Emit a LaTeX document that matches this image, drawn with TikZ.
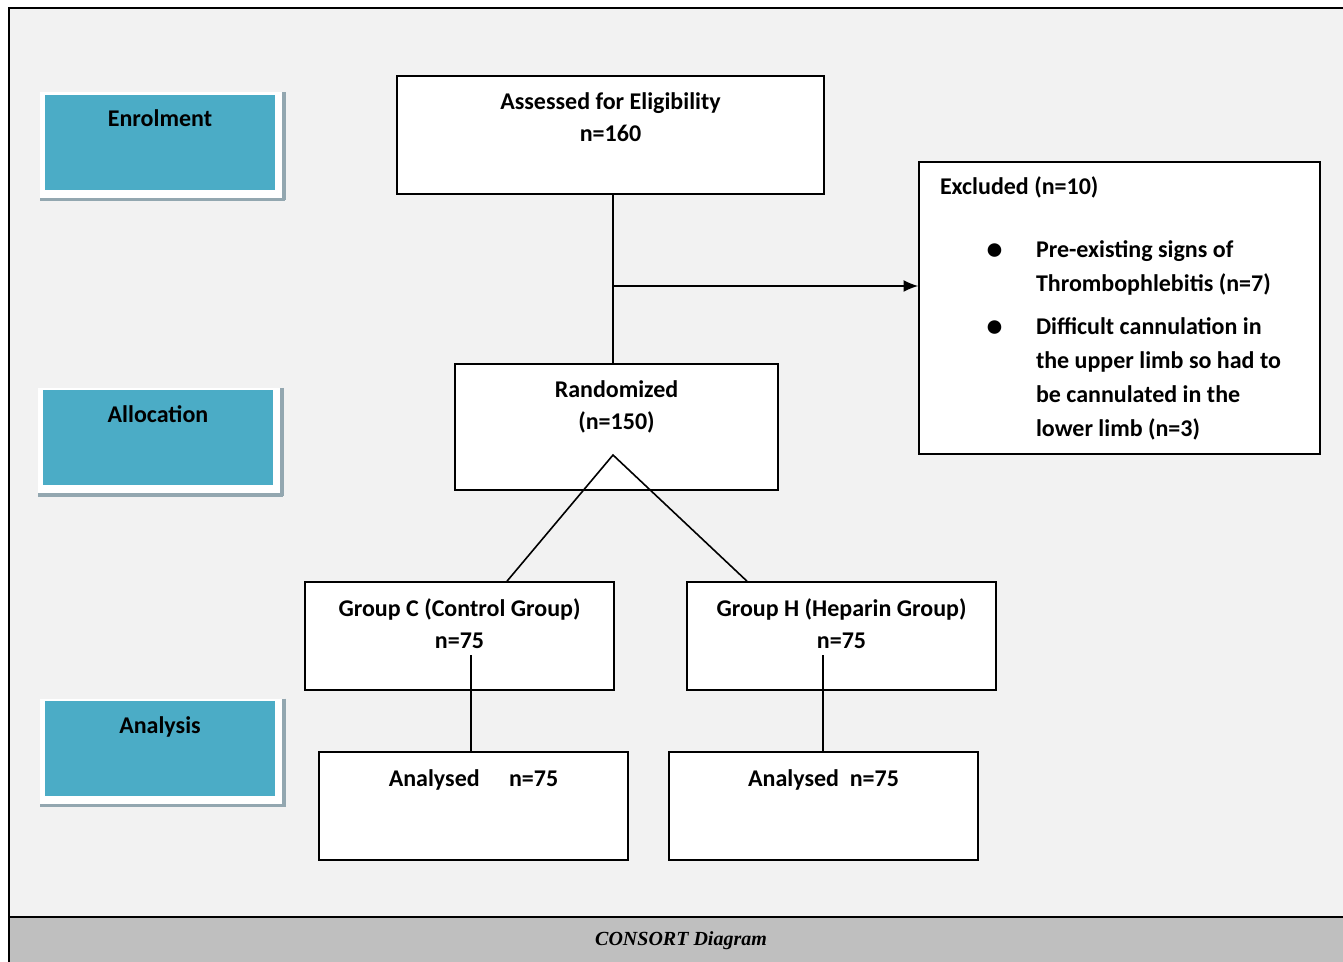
\documentclass[tikz,border=0pt]{standalone}
\usepackage{fontspec}
\setmainfont{Carlito}
\newfontfamily\capfont{Liberation Serif}
\usetikzlibrary{arrows.meta}
\definecolor{stagefill}{RGB}{75,172,198}
\definecolor{pagebg}{RGB}{242,242,242}
\definecolor{capbg}{RGB}{191,191,191}
\definecolor{shadowgray}{RGB}{147,167,176}
% text set at the top of a box of fixed size
\newcommand{\boxtxt}[4][25.5pt]{\parbox[c][#3][t]{#2}{\centering\rule{0pt}{#1}#4}}
\newcommand{\exbullet}{\leavevmode\llap{\raisebox{-1.5pt}{\fontsize{24}{24}\selectfont\textbullet}\hspace{25pt}}}

\begin{document}
\begin{tikzpicture}[x=0.75pt,y=-0.75pt,
  font=\fontsize{18}{24}\selectfont\bfseries,
  stage/.style={fill=stagefill,inner sep=0pt},
  flowbox/.style={draw,fill=white,line width=1.2pt,inner sep=0pt},
  shadowline/.style={shadowgray,line width=2.4pt},
  link/.style={line width=1.2pt}]
\useasboundingbox (0,0) rectangle (1343,962);
% page and caption band
\fill[white] (0,0) rectangle (1343,962);
\fill[pagebg] (9,8) rectangle (1343,917);
\fill[capbg] (9,917) rectangle (1343,962);
\draw[line width=0.9pt] (1343,8) -- (9,8) -- (9,962);
\draw[line width=2.2pt] (9,917) -- (1343,917);
\node (caption) at (681,941) {\capfont\fontsize{15}{17}\selectfont\itshape CONSORT Diagram};

% stage labels on the left
\foreach \nm/\txt/\x/\y in {enrol/Enrolment/160/142.5, alloc/Allocation/158/438, anal/Analysis/160/748.5}{
  \coordinate (\nm-c) at (\x,\y);
  \fill[white] ([shift={(-120,-50)}]\nm-c) rectangle ([shift={(124,57)}]\nm-c);
  \draw[shadowline] ([shift={(124,-50)}]\nm-c) -- ([shift={(124,58)}]\nm-c);
  \draw[shadowline] ([shift={(-120,57)}]\nm-c) -- ([shift={(125,57)}]\nm-c);
  \node[stage] (\nm) at (\nm-c) {\boxtxt[24pt]{172.5pt}{71.25pt}{\txt}};
}

% flow boxes
\node[flowbox] (assess) at (610.5,135) {\boxtxt{320.25pt}{88.5pt}{Assessed for Eligibility\\n=160}};
\node[flowbox] (random) at (616.5,427) {\boxtxt{242.25pt}{94.5pt}{Randomized\\(n=150)}};
\node[flowbox] (excl) at (1119.5,308) {\parbox[c][219pt][t]{300.75pt}{%
  \fontsize{18}{25.5}\selectfont\raggedright
  \rule{0pt}{24.75pt}\hspace*{15.75pt}Excluded (n=10)\par
  \vspace{21.75pt}
  \leftskip=87.75pt
  \exbullet Pre-existing signs of\\Thrombophlebitis (n=7)\par
  \vspace{6.75pt}
  \exbullet Difficult cannulation in\\the upper limb so had to\\be cannulated in the\\lower limb (n=3)\par}};
\node[flowbox] (grpC) at (459.5,636) {\boxtxt{231.75pt}{81pt}{Group C (Control Group)\\n=75}};
\node[flowbox] (grpH) at (841.5,636) {\boxtxt{231.75pt}{81pt}{Group H (Heparin Group)\\n=75}};
\node[flowbox] (anaL) at (473.5,806) {\boxtxt{231.75pt}{81pt}{Analysed\hspace{22pt}n=75}};
\node[flowbox] (anaR) at (823.5,806) {\boxtxt{231.75pt}{81pt}{Analysed\hspace{8pt}n=75}};

% connectors
\coordinate (split) at (613,286);
\coordinate (apex) at (613,455);
\coordinate (stemC) at (471,655);
\coordinate (stemH) at (823,655);
\draw[link] (assess.south -| split) -- (random.north -| split);
\draw[link,-{Latex[length=11pt,width=9pt]}] (split) -- (split -| excl.west);
\draw[link] ([shift={(47.5,0)}]grpC.north) -- (apex) -- ([shift={(-94.5,0)}]grpH.north);
\draw[link] (stemC) -- (stemC |- anaL.north);
\draw[link] (stemH) -- (stemH |- anaR.north);
\end{tikzpicture}
\end{document}
